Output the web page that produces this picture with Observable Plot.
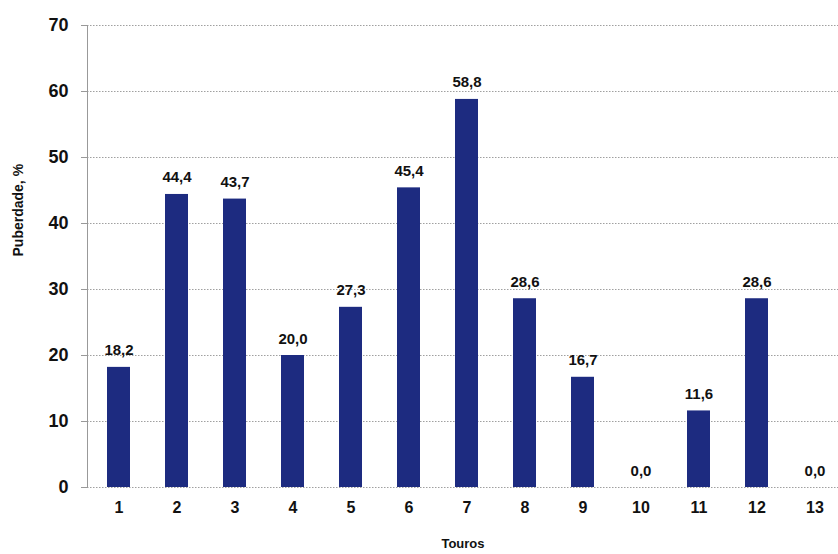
<!DOCTYPE html>
<html><head><meta charset="utf-8">
<script src="https://cdn.jsdelivr.net/npm/d3@7"></script>
<script src="https://cdn.jsdelivr.net/npm/@observablehq/plot@0.6"></script>
<style>body{margin:0;background:#fff}</style>
</head><body><div id="chart"></div>
<script>
const touros = ["1","2","3","4","5","6","7","8","9","10","11","12","13"];
const puberdade = [18.2, 44.4, 43.7, 20.0, 27.3, 45.4, 58.8, 28.6, 16.7, 0.0, 11.6, 28.6, 0.0];
const yTicks = [0, 10, 20, 30, 40, 50, 60, 70];
const data = touros.map((t, i) => ({touro: t, v: puberdade[i]}));
const fmt = v => v.toFixed(1).replace(".", ",");
const font = "'Liberation Sans', Arial, sans-serif";

const chart = Plot.plot({
  width: 838, height: 554,
  marginTop: 25, marginBottom: 67, marginLeft: 87, marginRight: 0,
  style: {fontFamily: font, fontWeight: "bold", color: "#111", background: "#fff"},
  x: {domain: touros, range: [86.75, 847], paddingInner: 0.6, paddingOuter: 0.3, label: null},
  y: {domain: [0, 70], label: null},
  marks: [
    Plot.ruleY(yTicks, {stroke: "#888", strokeDasharray: "1.5,1.5", strokeWidth: 1, strokeOpacity: 0.8}),
    Plot.barY(data, {x: "touro", y: "v", fill: "#1d2b80"}),
    Plot.frame({anchor: "left", stroke: "#999"}),
    Plot.axisY({ticks: yTicks, tickSize: 6, tickPadding: 13, fontSize: 18, stroke: "#999", tickFormat: d => d}),
    Plot.axisX({tickSize: 0, tickPadding: 14, fontSize: 16}),
    Plot.text(data, {x: "touro", y: "v", text: d => fmt(d.v), dy: -12, lineAnchor: "bottom", fontSize: 15, fill: "#111"}),
    Plot.text(["Touros"], {frameAnchor: "bottom", dy: 60, text: d => d, fontSize: 13, fill: "#111"}),
    Plot.text(["Puberdade, %"], {frameAnchor: "left", dx: -69, rotate: -90, text: d => d, fontSize: 14, fill: "#111"})
  ]
});
document.getElementById("chart").append(chart);
</script>
</body></html>
